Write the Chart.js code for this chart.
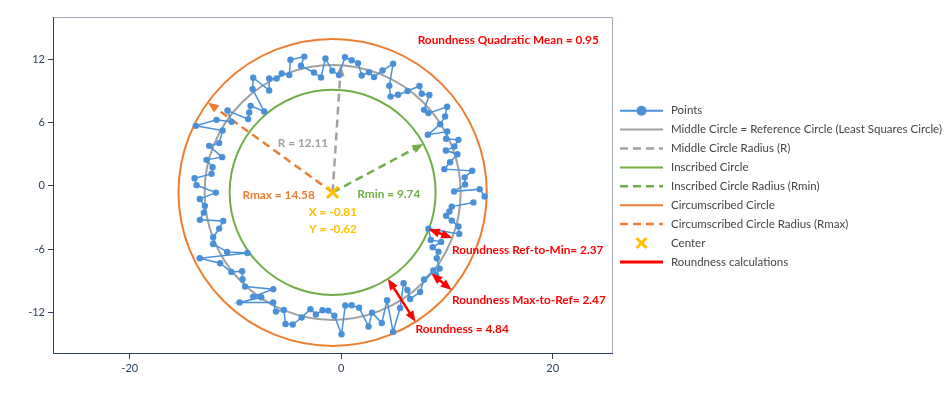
<!DOCTYPE html>
<html>
<head>
<meta charset="utf-8">
<script src="https://cdn.jsdelivr.net/npm/chart.js@4.4.0/dist/chart.umd.min.js"></script>
<style>
  html, body { margin: 0; padding: 0; background: #fff; }
  #wrap { width: 950px; height: 397px; position: relative; }
</style>
</head>
<body>
<div id="wrap"><canvas id="chart"></canvas></div>
<script>

// measured profile points, in the order they are joined
const pointsX = [
    13.57, 13.10, 10.68, 11.72, 11.68, 12.39, 9.76, 10.30, 10.99, 9.90,
    10.71, 11.09, 9.92, 10.02, 8.19, 9.36, 9.83, 10.02, 8.25, 7.84,
    8.34, 7.62, 7.40, 6.28, 5.38, 4.67, 4.55, 4.91, 3.91, 3.11,
    2.63, 1.94, 1.59, 0.99, 0.36, -0.21, -0.84, -1.49, -1.91, -2.58,
    -3.81, -3.49, -4.80, -4.91, -5.63, -6.11, -6.81, -6.81, -8.32, -8.38,
    -7.28, -8.57, -8.70, -8.80, -10.75, -10.37, -11.79, -13.75, -11.22, -11.54,
    -12.49, -11.26, -12.74, -12.17, -12.26, -13.87, -13.68, -11.86, -13.37, -12.90,
    -12.99, -13.37, -11.16, -11.54, -12.11, -12.11, -10.79, -8.87, -13.37, -11.45,
    -10.39, -9.37, -9.33, -9.09, -6.43, -8.32, -7.57, -9.61, -6.43, -6.17,
    -5.42, -5.27, -4.59, -3.74, -2.91, -2.39, -1.77, -1.22, -0.65, 0.03,
    0.39, 0.99, 1.69, 2.59, 2.92, 3.84, 4.34, 4.91, 5.57, 5.90,
    6.26, 6.52, 7.46, 7.84, 8.72, 8.98, 9.31, 9.04, 9.20, 8.65,
    9.45, 8.48, 8.25, 11.16, 11.09, 10.46, 9.92, 10.24, 10.46, 12.51
];
const pointsY = [
    -1.00, -0.31, -0.54, 0.14, 0.81, 1.43, 1.59, 2.25, 3.01, 3.36,
    3.74, 4.37, 4.47, 5.16, 4.85, 5.85, 6.59, 7.51, 6.91, 7.22,
    8.63, 8.75, 9.49, 9.01, 8.65, 8.48, 9.51, 11.60, 10.96, 10.33,
    10.79, 10.48, 11.66, 11.93, 12.21, 10.52, 10.93, 12.10, 10.29, 10.77,
    11.41, 12.28, 11.98, 10.52, 10.67, 10.20, 10.20, 9.06, 10.27, 9.19,
    7.06, 7.60, 6.97, 6.34, 7.16, 6.08, 6.27, 5.70, 5.26, 4.06,
    3.80, 2.73, 2.47, 1.78, 1.14, 0.73, 0.07, -0.64, -1.25, -1.90,
    -2.54, -3.23, -3.33, -4.06, -4.88, -5.51, -6.27, -6.37, -6.87, -7.35,
    -8.17, -8.10, -8.87, -9.57, -9.82, -10.52, -10.58, -11.07, -11.07, -11.93,
    -11.79, -13.12, -13.17, -12.50, -11.71, -12.21, -11.81, -11.85, -12.33, -14.09,
    -11.36, -11.34, -11.57, -13.36, -12.04, -13.02, -10.87, -13.88, -11.60, -9.25,
    -9.89, -10.74, -10.08, -8.89, -8.03, -8.46, -7.86, -6.87, -6.25, -5.83,
    -5.32, -5.13, -4.07, -4.56, -3.85, -3.30, -2.85, -2.44, -1.97, -1.57
];

// fitted circle results
const centerX = -0.81;
const centerY = -0.62;
const radiusRef = 12.11;
const radiusMin = 9.74;
const radiusMax = 14.58;

// axis ticks
const xTicks = [-20, 0, 20];
const yTicks = [-12, -6, 0, 6, 12];

// annotation texts
const labelTexts = [
    'Roundness Quadratic Mean = 0.95', 'R = 12.11', 'Rmax = 14.58', 'Rmin = 9.74',
    'X = -0.81', 'Y = -0.62', 'Roundness Ref-to-Min= 2.37', 'Roundness Max-to-Ref= 2.47',
    'Roundness = 4.84'
];
const labelX = [15.8, -3.62, -5.92, 4.50, -0.78, -0.78, 17.64, 17.76, 11.44];
const labelY = [13.88, 4.09, -0.86, -0.83, -2.50, -4.09, -6.08, -10.84, -13.62];

const legendNames = [
    'Points',
    'Middle Circle = Reference Circle (Least Squares Circle)',
    'Middle Circle Radius (R)',
    'Inscribed Circle',
    'Inscribed Circle Radius (Rmin)',
    'Circumscribed Circle',
    'Circumscribed Circle Radius (Rmax)',
    'Center',
    'Roundness calculations'
];

const BLUE = '#4A90D9';
const GREY = '#A0A0A0';
const GREEN = '#70AD47';
const ORANGE = '#ED7D31';
const GOLD = '#FFC000';
const RED = '#FF0000';
const AXIS = '#2A3F5F';

const labelColors = [RED, GREY, ORANGE, GREEN, GOLD, GOLD, RED, RED, RED];

// point on a circle around the center, angle in degrees
function polar(r, deg) {
    const a = deg * Math.PI / 180;
    return { x: centerX + r * Math.cos(a), y: centerY + r * Math.sin(a) };
}

function drawArrow(ctx, x1, y1, x2, y2, color, width, dash, bothEnds) {
    const head = 11, half = 4.5;
    const ang = Math.atan2(y2 - y1, x2 - x1);
    const sx = bothEnds ? x1 + Math.cos(ang) * head * 0.8 : x1;
    const sy = bothEnds ? y1 + Math.sin(ang) * head * 0.8 : y1;
    ctx.save();
    ctx.strokeStyle = color;
    ctx.fillStyle = color;
    ctx.lineWidth = width;
    ctx.setLineDash(dash);
    ctx.beginPath();
    ctx.moveTo(sx, sy);
    ctx.lineTo(x2 - Math.cos(ang) * head * 0.8, y2 - Math.sin(ang) * head * 0.8);
    ctx.stroke();
    ctx.setLineDash([]);
    const tip = (tx, ty, a) => {
        ctx.beginPath();
        ctx.moveTo(tx, ty);
        ctx.lineTo(tx - Math.cos(a) * head + Math.sin(a) * half, ty - Math.sin(a) * head - Math.cos(a) * half);
        ctx.lineTo(tx - Math.cos(a) * head - Math.sin(a) * half, ty - Math.sin(a) * head + Math.cos(a) * half);
        ctx.closePath();
        ctx.fill();
    };
    tip(x2, y2, ang);
    if (bothEnds) tip(x1, y1, ang + Math.PI);
    ctx.restore();
}

const circles = [
    { r: radiusRef, color: GREY },
    { r: radiusMin, color: GREEN },
    { r: radiusMax, color: ORANGE }
];

// radius arrows from the center: [radius, angle, color]
const radiusArrows = [
    [radiusRef, 86.3, GREY],
    [radiusMin, 28.2, GREEN],
    [radiusMax, 144.1, ORANGE]
];

// red roundness arrows: [from radius, to radius, angle]
const roundArrows = [
    [radiusMin, radiusRef, -21.0],
    [radiusRef, radiusMax, -39.5],
    [radiusMin, radiusMax, -57.5]
];

const overlay = {
    id: 'overlay',
    beforeDatasetsDraw(chart) {
        const { ctx, scales: { x, y } } = chart;
        const cx = x.getPixelForValue(centerX), cy = y.getPixelForValue(centerY);
        circles.forEach(c => {
            const rx = x.getPixelForValue(centerX + c.r) - cx;
            const ry = cy - y.getPixelForValue(centerY + c.r);
            ctx.save();
            ctx.strokeStyle = c.color;
            ctx.lineWidth = 2;
            ctx.beginPath();
            ctx.ellipse(cx, cy, rx, ry, 0, 0, Math.PI * 2);
            ctx.stroke();
            ctx.restore();
        });
        radiusArrows.forEach(a => {
            const p = polar(a[0], a[1]);
            drawArrow(ctx, cx, cy, x.getPixelForValue(p.x), y.getPixelForValue(p.y), a[2], 2.5, [8, 5], false);
        });
    },
    afterDatasetsDraw(chart) {
        const { ctx, scales: { x, y } } = chart;
        roundArrows.forEach(a => {
            const p1 = polar(a[0], a[2]), p2 = polar(a[1], a[2]);
            drawArrow(ctx, x.getPixelForValue(p1.x), y.getPixelForValue(p1.y),
                x.getPixelForValue(p2.x), y.getPixelForValue(p2.y), RED, 2.5, [], true);
        });
        ctx.save();
        ctx.font = 'bold 11.8px Lato';
        ctx.textAlign = 'center';
        ctx.textBaseline = 'middle';
        labelTexts.forEach((t, i) => {
            ctx.fillStyle = labelColors[i];
            ctx.fillText(t, x.getPixelForValue(labelX[i]), y.getPixelForValue(labelY[i]));
        });
        ctx.restore();
    },
    afterDraw(chart) {
        const { ctx, chartArea: a } = chart;
        ctx.save();
        // frame
        ctx.lineWidth = 1;
        ctx.strokeStyle = '#A3ACB9';
        ctx.beginPath();
        ctx.moveTo(a.left, a.top + 0.5); ctx.lineTo(a.right - 0.5, a.top + 0.5); ctx.lineTo(a.right - 0.5, a.bottom);
        ctx.stroke();
        ctx.strokeStyle = AXIS;
        ctx.beginPath();
        ctx.moveTo(a.left + 0.5, a.top); ctx.lineTo(a.left + 0.5, a.bottom - 0.5); ctx.lineTo(a.right, a.bottom - 0.5);
        ctx.stroke();

        // legend
        const x0 = 620, x1 = 663, tx = 671;
        ctx.font = '11.5px Lato';
        ctx.textBaseline = 'middle';
        legendNames.forEach((name, i) => {
            const ly = 110.7 + i * 18.9;
            ctx.fillStyle = '#444';
            ctx.fillText(name, tx, ly);
            ctx.setLineDash([]);
            ctx.lineWidth = 2;
            if (i === 0) {
                ctx.strokeStyle = BLUE; ctx.fillStyle = BLUE;
                ctx.beginPath(); ctx.moveTo(x0, ly); ctx.lineTo(x1, ly); ctx.stroke();
                ctx.beginPath(); ctx.arc((x0 + x1) / 2, ly, 5, 0, Math.PI * 2); ctx.fill();
            } else if (i === 7) {
                const mx = (x0 + x1) / 2;
                ctx.strokeStyle = GOLD; ctx.lineWidth = 3;
                ctx.beginPath();
                ctx.moveTo(mx - 5, ly - 5); ctx.lineTo(mx + 5, ly + 5);
                ctx.moveTo(mx - 5, ly + 5); ctx.lineTo(mx + 5, ly - 5);
                ctx.stroke();
            } else {
                const colors = [null, GREY, GREY, GREEN, GREEN, ORANGE, ORANGE, null, RED];
                ctx.strokeStyle = colors[i];
                if (i === 2 || i === 4 || i === 6) { ctx.setLineDash([8, 5]); ctx.lineWidth = 2.5; }
                if (i === 8) ctx.lineWidth = 3;
                ctx.beginPath(); ctx.moveTo(x0, ly); ctx.lineTo(x1, ly); ctx.stroke();
            }
        });
        ctx.restore();
    }
};

const ctxChart = document.getElementById('chart');

new Chart(ctxChart, {
    type: 'scatter',
    data: {
        datasets: [{
            data: pointsX.map((v, i) => ({ x: v, y: pointsY[i] })),
            showLine: true,
            borderColor: BLUE,
            borderWidth: 1.5,
            backgroundColor: BLUE,
            pointRadius: 3.2,
            pointBorderWidth: 0,
            tension: 0
        }, {
            data: [{ x: centerX, y: centerY }],
            pointStyle: 'crossRot',
            pointRadius: 8,
            borderColor: GOLD,
            borderWidth: 3
        }]
    },
    options: {
        responsive: true,
        maintainAspectRatio: false,
        animation: false,
        devicePixelRatio: 1,
        layout: { padding: { left: 0, top: 17, right: 337, bottom: 0 } },
        plugins: { legend: { display: false }, tooltip: { enabled: false } },
        scales: {
            x: {
                type: 'linear',
                min: -27.26,
                max: 25.71,
                afterFit: s => { s.height = 43; },
                afterBuildTicks: s => { s.ticks = xTicks.map(v => ({ value: v })); },
                border: { display: false },
                grid: { drawOnChartArea: false, drawTicks: true, tickLength: 5, color: AXIS },
                ticks: { padding: 3, color: AXIS, font: { family: 'Lato', size: 11 } }
            },
            y: {
                type: 'linear',
                min: -15.97,
                max: 16.04,
                afterFit: s => { s.width = 53; },
                afterBuildTicks: s => { s.ticks = yTicks.map(v => ({ value: v })); },
                border: { display: false },
                grid: { drawOnChartArea: false, drawTicks: true, tickLength: 5, color: AXIS },
                ticks: { padding: 3, color: AXIS, font: { family: 'Lato', size: 11 } }
            }
        }
    },
    plugins: [overlay]
});
</script>
</body>
</html>
